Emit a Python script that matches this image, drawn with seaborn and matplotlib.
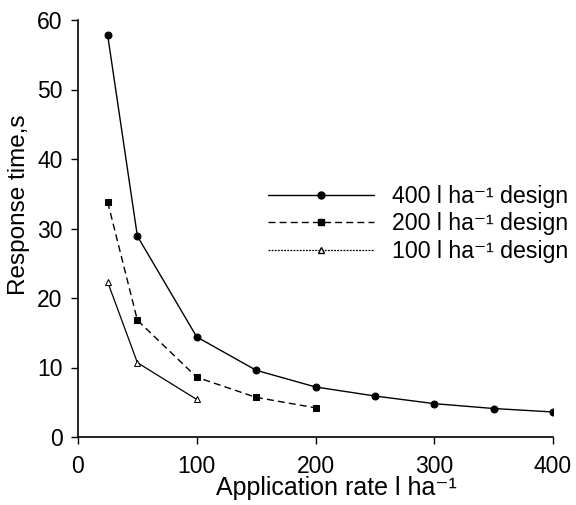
import matplotlib
matplotlib.use("Agg")
import matplotlib.pyplot as plt
import seaborn as sns
import pandas as pd
from matplotlib.lines import Line2D

sns.set_theme(style="ticks")
plt.rcParams['font.family'] = ['Liberation Sans', 'DejaVu Sans']
plt.rcParams['text.color'] = 'black'
plt.rcParams['axes.labelcolor'] = 'black'
plt.rcParams['xtick.color'] = 'black'
plt.rcParams['ytick.color'] = 'black'

x400 = [25, 50, 100, 150, 200, 250, 300, 350, 400]
y400 = [57.8, 28.9, 14.4, 9.6, 7.2, 5.9, 4.8, 4.1, 3.6]
x200 = [25, 50, 100, 150, 200]
y200 = [33.8, 16.8, 8.6, 5.7, 4.2]
x100 = [25, 50, 100]
y100 = [22.3, 10.7, 5.4]
labels = ["400 l ha\u207b\u00b9 design", "200 l ha\u207b\u00b9 design",
          "100 l ha\u207b\u00b9 design"]
xticks = [0, 100, 200, 300, 400]
yticks = [0, 10, 20, 30, 40, 50, 60]

fig = plt.figure(figsize=(5.76, 5.05), dpi=100)
ax = fig.add_axes([78 / 576, 1 - 437 / 505, 475 / 576, 417 / 505])

d400 = pd.DataFrame({"x": x400, "y": y400})
d200 = pd.DataFrame({"x": x200, "y": y200})
d100 = pd.DataFrame({"x": x100, "y": y100})

sns.lineplot(data=d400, x="x", y="y", ax=ax, color="black", lw=1.0,
             marker="o", markersize=5, markeredgecolor="black")
sns.lineplot(data=d200, x="x", y="y", ax=ax, color="black", lw=1.0,
             marker="s", markersize=4.5, markeredgecolor="black", linestyle=(0, (5, 3)))
sns.lineplot(data=d100, x="x", y="y", ax=ax, color="black", lw=0.9,
             marker="^", markersize=5, markerfacecolor="white", markeredgecolor="black")

handles = [
    Line2D([0], [0], color="black", lw=1.0, marker="o", markersize=5),
    Line2D([0], [0], color="black", lw=1.0, marker="s", markersize=4.5, linestyle=(0, (5, 3))),
    Line2D([0], [0], color="black", lw=0.9, marker="^", markersize=5,
           markerfacecolor="white", linestyle=(0, (1.5, 1))),
]
ax.legend(handles, labels, loc="center left", bbox_to_anchor=(0.380, 0.511),
          borderaxespad=0, frameon=False, fontsize=16.7, handlelength=4.6,
          handletextpad=0.77, labelspacing=0.2)

ax.set_xlim(0, 400)
ax.set_ylim(0, 60)
ax.set_xticks(xticks)
ax.set_yticks(yticks)
ax.tick_params(axis="both", labelsize=16.5, length=5, width=1, direction="out")
ax.tick_params(axis="x", pad=8)
ax.tick_params(axis="y", pad=6)
ax.set_xlabel("Application rate l ha\u207b\u00b9", fontsize=18)
ax.set_ylabel("Response time,s", fontsize=17.5)
ax.xaxis.set_label_coords(0.545, -0.0935)
ax.yaxis.set_label_coords(-0.101, 0.556)
for s in ["top", "right"]:
    ax.spines[s].set_visible(False)
for s in ["left", "bottom"]:
    ax.spines[s].set_color("black")
    ax.spines[s].set_linewidth(1.2)

fig.savefig("out.png", dpi=100)
